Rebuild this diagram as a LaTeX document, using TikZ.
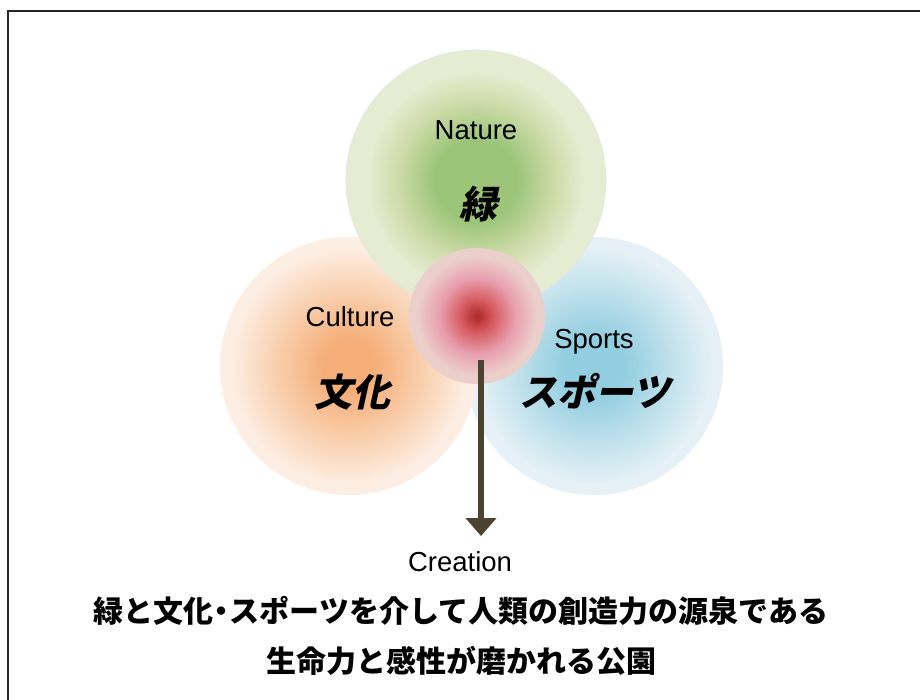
\documentclass[tikz,border=0pt]{standalone}
\usepackage{fontspec}
\setmainfont{Liberation Sans}
\newfontfamily\jp{Noto Sans CJK JP}
\newfontfamily\jpheavy{Noto Sans CJK JP Black}
\newfontfamily\jpslant[FakeSlant=0.22]{Noto Sans CJK JP}
\usetikzlibrary{arrows.meta}
\definecolor{gC}{HTML}{9CC57A}
\definecolor{gM}{HTML}{CDDBA8}
\definecolor{gO}{HTML}{E6ECD2}
\definecolor{oC}{HTML}{F5AE78}
\definecolor{oM}{HTML}{F9D2B2}
\definecolor{oO}{HTML}{FDEEE3}
\definecolor{bC}{HTML}{93CEE0}
\definecolor{bM}{HTML}{C5E3ED}
\definecolor{bO}{HTML}{E5F1F6}
\definecolor{rC}{HTML}{AE2828}
\definecolor{rM}{HTML}{D65A60}
\definecolor{rP}{HTML}{E8A0AE}
\definecolor{rO}{HTML}{EBCFCB}
\definecolor{arrowc}{HTML}{4A4330}
\pgfdeclareradialshading{greenball}{\pgfpoint{0bp}{0bp}}{color(0bp)=(gC); color(8bp)=(gC); color(15bp)=(gM); color(21bp)=(gO); color(25bp)=(gO); color(50bp)=(gO)}
\pgfdeclareradialshading{orangeball}{\pgfpoint{0bp}{0bp}}{color(0bp)=(oC); color(5bp)=(oC); color(15bp)=(oM); color(23bp)=(oO); color(25bp)=(oO); color(50bp)=(oO)}
\pgfdeclareradialshading{blueball}{\pgfpoint{0bp}{0bp}}{color(0bp)=(bC); color(6bp)=(bC); color(16bp)=(bM); color(23bp)=(bO); color(25bp)=(bO); color(50bp)=(bO)}
\pgfdeclareradialshading{redball}{\pgfpoint{0bp}{0bp}}{color(0bp)=(rC); color(6bp)=(rM); color(14bp)=(rP); color(22bp)=(rO); color(25bp)=(rO); color(50bp)=(rO)}
\tikzset{
  ball/.style={circle, inner sep=0pt, minimum size=#1, shade},
  lbl/.style={font=\fontsize{27.5pt}{30pt}\selectfont, inner sep=0pt},
  big/.style={font=\jpslant\bfseries\fontsize{38pt}{42pt}\selectfont, inner sep=0pt},
  caption/.style={font=\jpheavy\fontsize{30pt}{34pt}\selectfont, inner sep=0pt},
  flow/.style={line width=6pt, color=arrowc, -{Triangle[width=30pt,length=18pt]}}
}
\begin{document}
\begin{tikzpicture}[x=1pt,y=-1pt]
\useasboundingbox (0,0) rectangle (920,699);
\fill[white] (0,0) rectangle (920,699);
\draw[line width=2pt, black!85] (8,720) |- (940,11);
% circles
\node[ball=258pt, shading=blueball] (sports) at (594,366) {};
\node[ball=258pt, shading=orangeball] (culture) at (349,366) {};
\node[ball=260pt, shading=greenball, draw=gray!20, line width=0.6pt] (nature) at (476,180) {};
\node[ball=136pt, shading=redball] (core) at (477,316) {};
% labels
\node[lbl] (natureL) at (476,130) {Nature};
\node[big] (natureJ) at (478,204) {緑};
\node[lbl] (cultureL) at (350,317) {Culture};
\node[big] (cultureJ) at (352,392) {文化};
\node[lbl] (sportsL) at (594,342) {Sports};
\node[big] (sportsJ) at (595,391) {スポーツ};
% arrow
\coordinate (arrS) at (481,360);
\coordinate (arrE) at (481,536);
\draw[flow] (arrS) -- (arrE);
\node[lbl] (creation) at (460,562) {Creation};
\node[caption] (cap1) at (461,611) {緑と文化\kern-7pt・\kern-7pt スポーツを介して人類の創造力の源泉である};
\node[caption] (cap2) at (461,661) {生命力と感性が磨かれる公園};
\end{tikzpicture}
\end{document}
